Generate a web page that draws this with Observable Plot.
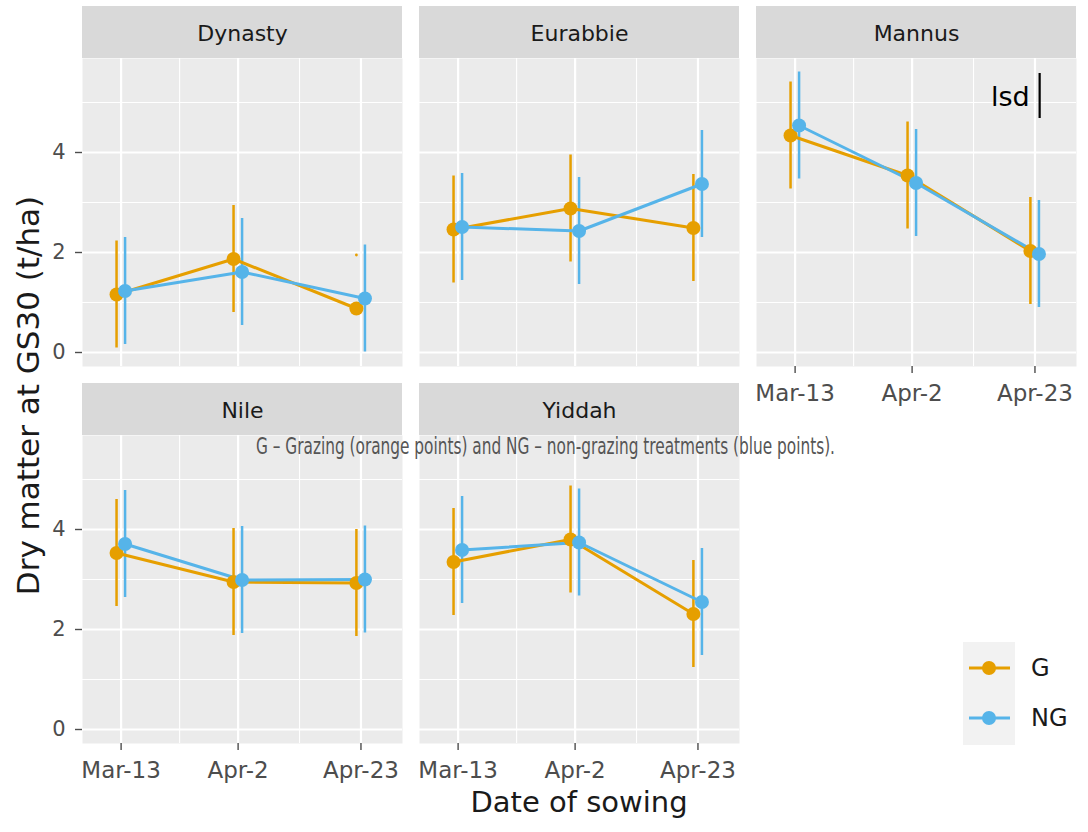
<!DOCTYPE html>
<html>
<head>
<meta charset="utf-8">
<script src="https://cdn.jsdelivr.net/npm/d3@7"></script>
<script src="https://cdn.jsdelivr.net/npm/@observablehq/plot@0.6"></script>
<style>
  body { margin: 0; background: #ffffff; }
  #chart { position: relative; width: 1088px; height: 832px; overflow: hidden; background: #ffffff;
           font-family: "DejaVu Sans", sans-serif; color: #1a1a1a; }
  #chart svg { position: absolute; }
  .title { position: absolute; white-space: nowrap; line-height: 1; }
  .legend-box { position: absolute; background: #f2f2f2; }
  .legend-key { position: absolute; }
  .caption { position: absolute; white-space: nowrap; line-height: 1; transform-origin: 0 50%;
             font-family: "Liberation Sans Narrow", "DejaVu Sans Condensed", sans-serif; color: #555555; }
</style>
</head>
<body>
<div id="chart"></div>
<script>
// ---- data -------------------------------------------------------------
const cultivars = ["Dynasty", "Eurabbie", "Mannus", "Nile", "Yiddah"];
const sowingLabels = ["Mar-13", "Apr-2", "Apr-23"];
const sowingDayOfYear = [72, 92, 113];
const treatments = ["G", "NG"];

// Dry matter at GS30 (t/ha), one value per sowing date
const dynastyG   = [1.16, 1.87, 0.88];
const dynastyNG  = [1.23, 1.61, 1.08];
const eurabbieG  = [2.46, 2.88, 2.49];
const eurabbieNG = [2.51, 2.43, 3.37];
const mannusG    = [4.34, 3.54, 2.03];
const mannusNG   = [4.54, 3.39, 1.97];
const nileG      = [3.53, 2.95, 2.93];
const nileNG     = [3.71, 2.99, 3.00];
const yiddahG    = [3.35, 3.80, 2.31];
const yiddahNG   = [3.59, 3.74, 2.55];

// half-length of each error bar (t/ha)
const errorHalf = 1.07;
// least significant difference shown in the Mannus panel (t/ha)
const lsdValues = [0.9];
// error bars that only left their upper end on the page
const barsNotDrawn = ["Dynasty|G|Apr-23"];

const yTicks = [0, 2, 4];

// ---- records ----------------------------------------------------------
const seriesTable = [
  ["Dynasty", "G", dynastyG], ["Dynasty", "NG", dynastyNG],
  ["Eurabbie", "G", eurabbieG], ["Eurabbie", "NG", eurabbieNG],
  ["Mannus", "G", mannusG], ["Mannus", "NG", mannusNG],
  ["Nile", "G", nileG], ["Nile", "NG", nileNG],
  ["Yiddah", "G", yiddahG], ["Yiddah", "NG", yiddahNG]
];
const records = seriesTable.flatMap(([cultivar, trt, vals]) =>
  vals.map((value, i) => ({cultivar, trt, day: sowingDayOfYear[i], label: sowingLabels[i], value})));

// ---- layout -----------------------------------------------------------
const PANEL_W = 320, PANEL_H = 308;
const M = {top: 52, right: 4, bottom: 50, left: 46};
const colLeft = [82, 419, 756];
const rowTop = [58, 435];
const xDomain = [65.4, 120.1];
const yDomain = [-0.28, 5.88];
const colors = {G: "#E69F00", NG: "#56B4E9"};
const dodge = {G: -0.78, NG: 0.68};
const xMinor = [(sowingDayOfYear[0] + sowingDayOfYear[1]) / 2, (sowingDayOfYear[1] + sowingDayOfYear[2]) / 2];
const yMinor = [1, 3, 5];
const pxPerUnit = PANEL_H / (yDomain[1] - yDomain[0]);

const xOf = d => d.day + dodge[d.trt];

function panelPlot(name, showY, showX) {
  const rows = records.filter(d => d.cultivar === name);
  const key = d => `${d.cultivar}|${d.trt}|${d.label}`;
  const marks = [
    Plot.frame({fill: "#ebebeb", stroke: "none"}),
    // strip
    Plot.rect([name], {x1: () => xDomain[0], x2: () => xDomain[1],
      y1: () => yDomain[1], y2: () => yDomain[1] + M.top / pxPerUnit, fill: "#d9d9d9"}),
    Plot.text([name], {frameAnchor: "top", dy: -25, lineAnchor: "middle", text: d => d,
      fontSize: 22, fill: "#1a1a1a"}),
    // grid
    Plot.ruleX(xMinor, {x: d => d, stroke: "#ffffff", strokeWidth: 1.1}),
    Plot.ruleY(yMinor, {y: d => d, stroke: "#ffffff", strokeWidth: 1.1}),
    Plot.ruleX(sowingDayOfYear, {x: d => d, stroke: "#ffffff", strokeWidth: 2.2}),
    Plot.ruleY(yTicks, {y: d => d, stroke: "#ffffff", strokeWidth: 2.2})
  ];
  for (const t of treatments) {
    const s = rows.filter(d => d.trt === t);
    marks.push(Plot.ruleX(s.filter(d => !barsNotDrawn.includes(key(d))), {
      x: xOf, y1: d => d.value - errorHalf, y2: d => d.value + errorHalf,
      stroke: colors[t], strokeWidth: 2.5}));
    marks.push(Plot.dot(s.filter(d => barsNotDrawn.includes(key(d))), {
      x: xOf, y: d => d.value + errorHalf, r: 1.4, fill: colors[t]}));
  }
  for (const t of treatments) {
    const s = rows.filter(d => d.trt === t);
    marks.push(Plot.line(s, {x: xOf, y: "value", stroke: colors[t], strokeWidth: 3}));
  }
  for (const t of treatments) {
    const s = rows.filter(d => d.trt === t);
    marks.push(Plot.dot(s, {x: xOf, y: "value", r: 7, fill: colors[t]}));
  }
  if (name === "Mannus") {
    const lsdTop = 5.58, lsdX = sowingDayOfYear[2] + 0.8;
    marks.push(Plot.ruleX(lsdValues, {x: () => lsdX, y1: v => lsdTop - v, y2: () => lsdTop,
      stroke: "#000000", strokeWidth: 2.2}));
    marks.push(Plot.text(lsdValues, {x: () => lsdX, y: v => lsdTop - v / 2, text: () => "lsd",
      textAnchor: "end", dx: -10, dy: 1, fontSize: 27, fill: "#000000"}));
  }
  if (showY) {
    marks.push(Plot.axisY(yTicks, {tickSize: 7, tickPadding: 10, fontSize: 21,
      color: "#4d4d4d", strokeWidth: 1.4, label: null, tickFormat: d => String(d)}));
  }
  if (showX) {
    marks.push(Plot.axisX(sowingDayOfYear, {tickSize: 7, tickPadding: 11, fontSize: 23,
      color: "#4d4d4d", strokeWidth: 1.4, label: null,
      tickFormat: d => sowingLabels[sowingDayOfYear.indexOf(d)]}));
  }
  return Plot.plot({
    width: M.left + PANEL_W + M.right,
    height: M.top + PANEL_H + M.bottom,
    marginTop: M.top, marginRight: M.right, marginBottom: M.bottom, marginLeft: M.left,
    x: {domain: xDomain, axis: null},
    y: {domain: yDomain, axis: null},
    style: {background: "transparent", fontFamily: "DejaVu Sans, sans-serif", overflow: "visible"},
    marks
  });
}

const chart = document.getElementById("chart");
const facetPlace = {Dynasty: [0, 0], Eurabbie: [1, 0], Mannus: [2, 0], Nile: [0, 1], Yiddah: [1, 1]};
const xAxisPanels = ["Mannus", "Nile", "Yiddah"];
for (const name of cultivars) {
  const [col, row] = facetPlace[name];
  const svg = panelPlot(name, col === 0, xAxisPanels.includes(name));
  svg.style.left = (colLeft[col] - M.left) + "px";
  svg.style.top = (rowTop[row] - M.top) + "px";
  chart.appendChild(svg);
}

// axis titles
const xTitle = document.createElement("div");
xTitle.className = "title";
xTitle.textContent = "Date of sowing";
Object.assign(xTitle.style, {left: "279px", width: "600px", textAlign: "center", top: "788px", fontSize: "29px"});
chart.appendChild(xTitle);

const yTitle = document.createElement("div");
yTitle.className = "title";
yTitle.textContent = "Dry matter at GS30 (t/ha)";
Object.assign(yTitle.style, {left: (28 - 300) + "px", width: "600px", textAlign: "center",
  top: (395 - 15.5) + "px", height: "31px", fontSize: "31px", transform: "rotate(-90deg)", transformOrigin: "50% 50%"});
chart.appendChild(yTitle);

// legend
const legendBox = document.createElement("div");
legendBox.className = "legend-box";
Object.assign(legendBox.style, {left: "963px", top: "642px", width: "52px", height: "103px"});
chart.appendChild(legendBox);
treatments.forEach((t, i) => {
  const cy = 668 + i * 50;
  const key = d3.create("svg").attr("class", "legend-key").attr("width", 52).attr("height", 30)
    .style("left", "963px").style("top", (cy - 15) + "px");
  key.append("line").attr("x1", 6).attr("x2", 47).attr("y1", 15).attr("y2", 15)
    .attr("stroke", colors[t]).attr("stroke-width", 3);
  key.append("circle").attr("cx", 26).attr("cy", 15).attr("r", 7).attr("fill", colors[t]);
  chart.appendChild(key.node());
  const lab = document.createElement("div");
  lab.className = "title";
  lab.textContent = t;
  Object.assign(lab.style, {left: "1031px", top: (cy - 12) + "px", fontSize: "24px", color: "#1a1a1a"});
  chart.appendChild(lab);
});

// note on treatments
const caption = document.createElement("div");
caption.className = "caption";
caption.textContent = "G \u2013 Grazing (orange points) and NG \u2013 non-grazing treatments (blue points).";
Object.assign(caption.style, {left: "256px", top: "435px", fontSize: "23px"});
chart.appendChild(caption);
const cw = caption.getBoundingClientRect().width;
caption.style.transform = `scaleX(${579 / cw})`;
</script>
</body>
</html>
